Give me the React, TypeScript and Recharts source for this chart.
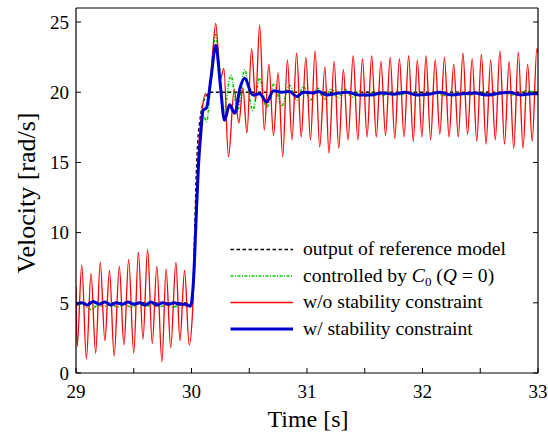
import React from 'react';
import { LineChart, Line, XAxis, YAxis, Legend } from 'recharts';

// ---- data ----
const refTime = [29.0, 30.01, 30.02, 30.03, 30.04, 30.05, 30.06, 30.08, 30.1, 30.13, 30.16, 33.0];
const refVel = [5.0, 5.0, 8.0, 11.0, 14.0, 16.0, 17.2, 18.5, 19.3, 19.8, 20.0, 20.0];

const c0Time = [
  29.0, 29.06, 29.1, 29.135, 29.18, 29.24, 29.3, 29.36, 29.42, 29.48, 29.54, 29.6, 29.66, 29.72, 29.78, 29.84, 29.9, 29.96, 30.0,
  30.02, 30.04, 30.06, 30.08, 30.105, 30.13, 30.17, 30.21, 30.24, 30.28, 30.34, 30.4, 30.46, 30.53, 30.59, 30.65, 30.715, 30.78,
  30.85, 30.91, 30.97, 31.03, 31.09, 31.15, 31.21, 31.27, 31.33, 31.39, 31.46, 31.52, 31.58, 31.65, 31.72, 31.8, 31.9, 32.0,
  32.1, 32.2, 32.3, 32.4, 32.5, 32.6, 32.7, 32.8, 32.9, 33.0,
];
const c0Vel = [
  4.8, 4.9, 4.65, 4.5, 4.8, 4.75, 4.9, 4.7, 4.85, 4.7, 4.9, 4.75, 4.85, 4.7, 4.85, 4.7, 4.85, 4.75, 4.8,
  6.5, 11.0, 15.0, 17.3, 18.3, 17.9, 21.0, 24.1, 22.0, 18.6, 21.2, 18.7, 21.6, 18.7, 21.0, 18.9, 20.6, 19.0,
  20.5, 19.4, 20.4, 19.45, 20.3, 19.5, 20.25, 19.6, 20.2, 19.65, 20.1, 19.7, 20.05, 19.75, 20.0, 19.8, 20.0, 19.8,
  19.95, 19.75, 19.95, 19.8, 20.0, 19.75, 19.95, 19.8, 20.1, 19.9,
];

const woTime = [
  29.0, 29.01, 29.05, 29.09, 29.13, 29.17, 29.21, 29.25, 29.29, 29.33, 29.375, 29.415, 29.456, 29.5, 29.54, 29.58, 29.62,
  29.66, 29.7, 29.744, 29.78, 29.82, 29.865, 29.9, 29.94, 29.98,
  30.01, 30.03, 30.05, 30.07, 30.09, 30.12, 30.15, 30.18, 30.21, 30.25, 30.28, 30.32, 30.37, 30.41, 30.445, 30.48, 30.52,
  30.555, 30.59, 30.63, 30.67, 30.71, 30.75, 30.79, 30.83, 30.87, 30.91, 30.95,
  30.99, 31.03, 31.07, 31.11, 31.155, 31.19, 31.235, 31.275, 31.315, 31.355, 31.4, 31.44, 31.48, 31.52, 31.56, 31.6,
  31.64, 31.68, 31.72, 31.76, 31.8, 31.84, 31.88, 31.92, 31.955, 31.995,
  32.03, 32.07, 32.11, 32.15, 32.19, 32.23, 32.27, 32.31, 32.35, 32.39, 32.43, 32.47, 32.51, 32.55, 32.59, 32.63,
  32.67, 32.71, 32.75, 32.79, 32.83, 32.87, 32.91, 32.95, 32.99, 33.0,
];
const woVel = [
  6.2, 1.9, 7.7, 1.0, 7.1, 1.4, 7.9, 2.3, 7.3, 1.2, 7.6, 2.0, 8.1, 1.4, 8.6, 2.4, 8.8,
  2.1, 7.6, 0.8, 7.4, 1.8, 7.9, 2.3, 7.3, 2.0,
  4.5, 9.5, 14.0, 17.0, 18.6, 19.9, 19.7, 22.5, 24.9, 20.9, 21.7, 15.4, 20.2, 17.8, 20.3, 17.1, 23.1,
  19.4, 24.8, 17.3, 22.0, 16.9, 21.4, 15.4, 22.3, 16.6, 22.8, 16.8,
  22.5, 16.6, 22.95, 16.1, 21.8, 15.65, 22.2, 16.0, 21.6, 16.6, 22.6, 16.6, 22.4, 16.8, 22.6, 16.8,
  22.2, 16.9, 22.5, 16.7, 22.4, 16.8, 22.6, 16.5, 22.3, 16.8,
  22.6, 16.6, 22.3, 17.0, 22.5, 16.8, 22.0, 16.8, 22.8, 17.0, 22.4, 16.5, 22.7, 16.3, 22.3, 16.6,
  22.95, 16.3, 22.2, 16.0, 22.85, 16.0, 22.0, 16.5, 23.1, 22.8,
];

const wTime = [
  29.0, 29.05, 29.1, 29.15, 29.2, 29.25, 29.3, 29.35, 29.4, 29.45, 29.5, 29.55, 29.6, 29.65, 29.7, 29.75, 29.8, 29.85,
  29.9, 29.95, 29.99, 30.02, 30.04, 30.06, 30.08, 30.1, 30.13, 30.17, 30.21, 30.25, 30.285, 30.33, 30.375, 30.42, 30.46,
  30.53, 30.59, 30.65, 30.71, 30.78, 30.85, 30.91, 30.97, 31.05, 31.1, 31.17, 31.25, 31.35, 31.45, 31.55, 31.65, 31.75,
  31.85, 31.95, 32.05, 32.15, 32.25, 32.35, 32.45, 32.55, 32.65, 32.75, 32.85, 32.95, 33.0,
];
const wVel = [
  4.9, 5.0, 4.85, 5.1, 4.9, 5.05, 4.85, 5.0, 4.9, 5.05, 4.9, 5.0, 4.85, 5.05, 4.85, 5.0, 4.9, 5.0,
  4.9, 4.9, 4.75, 7.0, 11.0, 14.7, 17.0, 18.7, 18.9, 21.1, 23.35, 20.5, 18.0, 19.1, 18.5, 20.3, 21.0,
  19.8, 19.9, 19.3, 20.1, 20.0, 20.05, 19.7, 20.0, 19.95, 20.05, 19.8, 19.9, 20.0, 19.8, 19.8, 19.95, 19.85,
  20.0, 19.8, 19.85, 20.0, 19.8, 19.9, 19.95, 19.8, 19.9, 20.0, 19.8, 19.9, 19.9,
];

const xTicks = [29, 29.5, 30, 30.5, 31, 31.5, 32, 32.5, 33];
const yTicks = [0, 5, 10, 15, 20, 25];

const legendItems = [
  { key: 'ref', color: '#000000', width: 1.3, dash: '3.5 2.5' },
  { key: 'c0', color: '#00cc00', width: 1.6, dash: '3 1.5 1 1.5' },
  { key: 'wo', color: '#ff0000', width: 1.3, dash: undefined },
  { key: 'w', color: '#0000cc', width: 3, dash: undefined },
];

const toPoints = (ts: number[], vs: number[]) => ts.map((t, i) => ({ t, v: vs[i] }));
const refData = toPoints(refTime, refVel);
const c0Data = toPoints(c0Time, c0Vel);
const woData = toPoints(woTime, woVel);
const wData = toPoints(wTime, wVel);

const FONT = '"Liberation Serif", "Times New Roman", serif';

const LegendBox = () => {
  const rowY = [13.5, 40, 66.5, 93];
  const labels: React.ReactNode[] = [
    'output of reference model',
    <>
      controlled by <tspan fontStyle="italic">C</tspan>
      <tspan fontSize={13} dy={4}>0</tspan>
      <tspan dy={-4}> (</tspan>
      <tspan fontStyle="italic">Q</tspan> = 0)
    </>,
    'w/o stability constraint',
    'w/ stability constraint',
  ];
  return (
    <svg width={320} height={110} style={{ display: 'block', overflow: 'visible' }}>
      {legendItems.map((it, i) => (
        <g key={it.key}>
          <line x1={10.5} x2={73} y1={rowY[i]} y2={rowY[i]} stroke={it.color} strokeWidth={it.width} strokeDasharray={it.dash} />
          <text x={83} y={rowY[i] + 5.5} fontSize={19.6} fontFamily={FONT} fill="#000">
            {labels[i]}
          </text>
        </g>
      ))}
    </svg>
  );
};

const fmtX = (v: number) => (Number.isInteger(v) ? String(v) : '');

export default function App() {
  return (
    <div style={{ position: 'absolute', left: 0, top: 0, background: '#fff' }}>
      <LineChart width={548} height={436} margin={{ top: 0, right: 0, bottom: 0, left: 16 }}>
        <XAxis
          xAxisId="b"
          dataKey="t"
          type="number"
          domain={[29, 33]}
          ticks={xTicks}
          interval={0}
          tickFormatter={fmtX}
          height={63}
          tickSize={-5}
          tickMargin={17}
          axisLine={{ stroke: '#000', strokeWidth: 1.2 }}
          tickLine={{ stroke: '#000', strokeWidth: 1 }}
          tick={{ fontSize: 19, fill: '#000', fontFamily: FONT }}
          allowDataOverflow
          label={() => (
            <text x={308} y={427} textAnchor="middle" fontSize={24} fontFamily={FONT} fill="#000">
              Time [s]
            </text>
          )}
        />
        <XAxis
          xAxisId="t"
          orientation="top"
          type="number"
          domain={[29, 33]}
          ticks={xTicks}
          interval={0}
          tickFormatter={() => ''}
          height={8}
          tickSize={-5}
          axisLine={{ stroke: '#000', strokeWidth: 1.2 }}
          tickLine={{ stroke: '#000', strokeWidth: 1 }}
          allowDataOverflow
        />
        <YAxis
          yAxisId="l"
          type="number"
          domain={[0, 26]}
          ticks={yTicks}
          interval={0}
          width={60}
          tickSize={-5}
          tickMargin={12}
          axisLine={{ stroke: '#000', strokeWidth: 1.2 }}
          tickLine={{ stroke: '#000', strokeWidth: 1 }}
          tick={{ fontSize: 19, fill: '#000', fontFamily: FONT }}
          allowDataOverflow
          label={() => (
            <text x={35} y={193} transform="rotate(-90, 35, 193)" textAnchor="middle" fontSize={26} fontFamily={FONT} fill="#000">
              Velocity [rad/s]
            </text>
          )}
        />
        <YAxis
          yAxisId="r"
          orientation="right"
          type="number"
          domain={[0, 26]}
          ticks={yTicks}
          interval={0}
          width={10}
          tickSize={-5}
          tickFormatter={() => ''}
          axisLine={{ stroke: '#000', strokeWidth: 1.2 }}
          tickLine={{ stroke: '#000', strokeWidth: 1 }}
          allowDataOverflow
        />
        <Legend
          layout="vertical"
          align="center"
          verticalAlign="middle"
          content={() => <LegendBox />}
          wrapperStyle={{ position: 'absolute', left: 220, top: 236, width: 320, height: 110 }}
        />
        <Line xAxisId="b" yAxisId="l" data={refData} dataKey="v" type="linear" stroke="#000" strokeWidth={1.3} strokeDasharray="3.5 2.5" dot={false} isAnimationActive={false} />
        <Line xAxisId="b" yAxisId="l" data={c0Data} dataKey="v" type="monotone" stroke="#00cc00" strokeWidth={1.6} strokeDasharray="3 1.5 1 1.5" dot={false} isAnimationActive={false} />
        <Line xAxisId="b" yAxisId="l" data={woData} dataKey="v" type="monotone" stroke="#ff0000" strokeWidth={1.3} dot={false} isAnimationActive={false} />
        <Line xAxisId="b" yAxisId="l" data={wData} dataKey="v" type="monotone" stroke="#0000cc" strokeWidth={3} dot={false} isAnimationActive={false} />
      </LineChart>
    </div>
  );
}
